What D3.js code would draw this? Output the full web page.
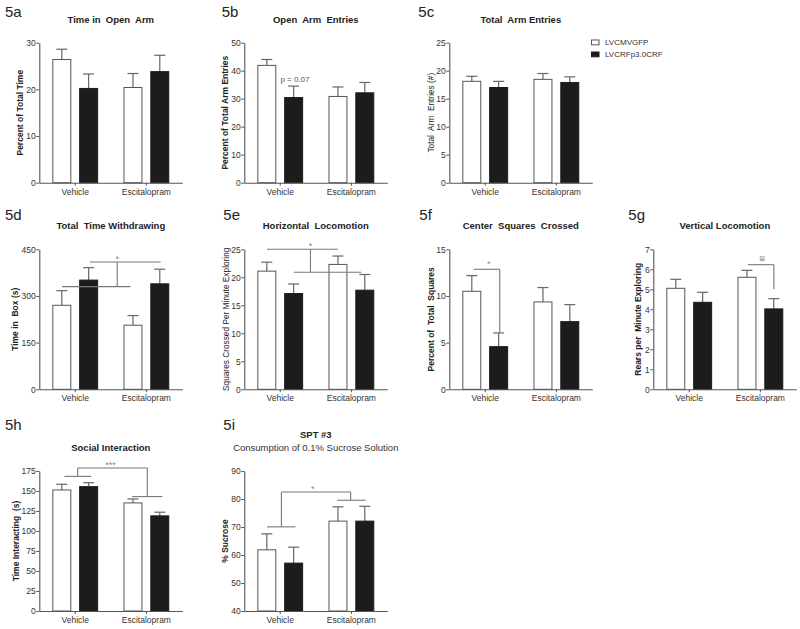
<!DOCTYPE html>
<html><head><meta charset="utf-8">
<script src="https://cdn.jsdelivr.net/npm/d3@7"></script>
<style>
body{margin:0;background:#fff;}
svg{font-family:"Liberation Sans",Arial,Helvetica,sans-serif;}
text{white-space:pre;}
</style></head><body>
<svg id="chart" width="800" height="629"></svg>
<script>
// ---------- data ----------
const groups = ["Vehicle", "Escitalopram"];
const seriesNames = ["LVCMVGFP", "LVCRFp3.0CRF"];
// order of values: [Vehicle-GFP, Vehicle-CRF, Escitalopram-GFP, Escitalopram-CRF]
const openArmTimeMean = [26.4, 20.2, 20.4, 23.8];
const openArmTimeSem  = [2.2, 3.1, 3.0, 3.5];
const openArmEntriesMean = [41.9, 30.4, 30.8, 32.1];
const openArmEntriesSem  = [2.1, 4.1, 3.4, 3.7];
const totalArmEntriesMean = [18.1, 17.0, 18.45, 17.9];
const totalArmEntriesSem  = [0.9, 1.1, 1.05, 1.0];
const withdrawingMean = [270, 351, 206, 339];
const withdrawingSem  = [47, 40, 31, 47];
const horizontalMean = [21.1, 17.1, 22.3, 17.7];
const horizontalSem  = [1.6, 1.7, 1.5, 2.8];
const centerSquaresMean = [10.5, 4.57, 9.36, 7.25];
const centerSquaresSem  = [1.68, 1.47, 1.54, 1.82];
const verticalMean = [5.05, 4.35, 5.6, 4.02];
const verticalSem  = [0.45, 0.5, 0.35, 0.51];
const socialMean = [151.3, 155.5, 135.1, 118.9];
const socialSem  = [7.1, 4.9, 5.0, 4.6];
const sucroseMean = [61.85, 57.1, 72.1, 72.1];
const sucroseSem  = [5.7, 5.7, 5.1, 5.3];

// tick labels
const ticks5a = [0, 10, 20, 30];
const ticks5b = [0, 10, 20, 30, 40, 50];
const ticks5c = [0, 5, 10, 15, 20, 25];
const ticks5d = [0, 150, 300, 450];
const ticks5e = [0, 5, 10, 15, 20, 25];
const ticks5f = [0, 5, 10, 15];
const ticks5g = [0, 1, 2, 3, 4, 5, 6, 7];
const ticks5h = [0, 25, 50, 75, 100, 125, 150, 175];
const ticks5i = [40, 50, 60, 70, 80, 90];

// significance brackets: [u1, v1, u2, v2] where u = group position (0 Vehicle, 1 Escitalopram), v = value
const sig5d = [[0.204, 409, 1.2, 409], [-0.185, 330, 0.777, 330], [0.59, 409, 0.59, 330]];
const sig5e = [[-0.185, 25, 0.81, 25], [0.19, 20.9, 1.14, 20.9], [0.425, 25, 0.425, 20.9]];
const sig5f = [[-0.162, 12.86, 0.204, 12.86], [0.204, 12.86, 0.204, 6.06]];
const sig5g = [[0.824, 6.23, 1.19, 6.23], [1.19, 6.23, 1.19, 5.0]];
const sig5h = [[0.035, 178.7, 1.013, 178.7], [-0.152, 168.3, 0.224, 168.3], [0.035, 178.7, 0.035, 168.3],
               [1.013, 178.7, 1.013, 143], [0.801, 143, 1.224, 143]];
const sig5i = [[0.017, 82.5, 0.99, 82.5], [0.017, 82.5, 0.017, 70.05], [-0.185, 70.05, 0.214, 70.05],
               [0.99, 82.5, 0.99, 79.55], [0.80, 79.55, 1.2, 79.55]];
// significance marks: [u, v, text]
const marks5b = [[0.207, 36.7, "p = 0.07"]];
const marks5d = [[0.59, 426, "*"]];
const marks5e = [[0.425, 26.1, "*"]];
const marks5f = [[0.05, 13.7, "*"]];
const marks5g = [[1.027, 6.5, "\u22A0"]];
const marks5h = [[0.496, 185.5, "***"]];
const marks5i = [[0.458, 84.6, "*"]];

// ---------- layout ----------
const colX = [39.3, 244.3, 449.3, 653.3];
const rowTop = [42.7, 249.3, 471];
const plotW = 143, plotH = 140;

const panels = [
  {id:"5a", col:0, row:0, title:"Time in  Open  Arm", ylab:"Percent of Total Time", bold:true, ylabDx:-19.5, labX:5,
   mean:openArmTimeMean, sem:openArmTimeSem, ticks:ticks5a, sig:[], marks:[]},
  {id:"5b", col:1, row:0, title:"Open  Arm  Entries", ylab:"Percent of Total Arm Entries", bold:true, ylabDx:-19.5, labX:221.7,
   mean:openArmEntriesMean, sem:openArmEntriesSem, ticks:ticks5b, sig:[], marks:marks5b},
  {id:"5c", col:2, row:0, title:"Total  Arm Entries", ylab:"Total  Arm  Entries (#)", bold:false, ylabDx:-18, labX:418.3,
   mean:totalArmEntriesMean, sem:totalArmEntriesSem, ticks:ticks5c, sig:[], marks:[]},
  {id:"5d", col:0, row:1, title:"Total  Time Withdrawing", ylab:"Time in  Box (s)", bold:true, ylabDx:-24.3, labX:5,
   mean:withdrawingMean, sem:withdrawingSem, ticks:ticks5d, sig:sig5d, marks:marks5d},
  {id:"5e", col:1, row:1, title:"Horizontal  Locomotion", ylab:"Squares Crossed Per Minute Exploring", bold:false, ylabDx:-18, labX:223.3,
   mean:horizontalMean, sem:horizontalSem, ticks:ticks5e, sig:sig5e, marks:marks5e},
  {id:"5f", col:2, row:1, title:"Center  Squares  Crossed", ylab:"Percent of  Total  Squares", bold:true, ylabDx:-18, labX:419.3,
   mean:centerSquaresMean, sem:centerSquaresSem, ticks:ticks5f, sig:sig5f, marks:marks5f},
  {id:"5g", col:3, row:1, title:"Vertical Locomotion", ylab:"Rears per  Minute Exploring", bold:true, ylabDx:-15, labX:628.3,
   mean:verticalMean, sem:verticalSem, ticks:ticks5g, sig:sig5g, marks:marks5g},
  {id:"5h", col:0, row:2, title:"Social Interaction", ylab:"Time Interacting  (s)", bold:true, ylabDx:-23.5, labX:5,
   mean:socialMean, sem:socialSem, ticks:ticks5h, sig:sig5h, marks:marks5h},
  {id:"5i", col:1, row:2, title:"SPT #3", subtitle:"Consumption of 0.1% Sucrose Solution", ylab:"% Sucrose", bold:true, ylabDx:-19.5, labX:223.3,
   mean:sucroseMean, sem:sucroseSem, ticks:ticks5i, sig:sig5i, marks:marks5i}
];
const labBase = [17.3, 220, 430];
const titleBase = [22.5, 228.5, 450.5];

const svg = d3.select("#chart");
const axisColor = "#555", textColor = "#333";

panels.forEach(p => {
  const g = svg.append("g").attr("transform", `translate(${colX[p.col]},${rowTop[p.row]})`);
  const x = d3.scaleBand().domain(groups).range([0, plotW]).paddingInner(0.37).paddingOuter(0.19);
  const xs = d3.scaleBand().domain([0, 1]).range([0, x.bandwidth()]).paddingInner(0.33);
  const u = d3.scaleLinear().domain([0, 1])
    .range([x(groups[0]) + x.bandwidth() / 2, x(groups[1]) + x.bandwidth() / 2]);
  const dom = d3.extent(p.ticks);
  const y = d3.scaleLinear().domain(dom).range([plotH, 0]);

  const data = p.mean.map((m, i) => ({g: groups[Math.floor(i / 2)], s: i % 2, m, e: p.sem[i]}));

  // error bars (behind bars)
  const eb = g.append("g").selectAll("g").data(data).join("g");
  eb.append("line")
    .attr("x1", d => x(d.g) + xs(d.s) + xs.bandwidth() / 2)
    .attr("x2", d => x(d.g) + xs(d.s) + xs.bandwidth() / 2)
    .attr("y1", d => y(d.m)).attr("y2", d => y(d.m + d.e))
    .attr("stroke", "#666").attr("stroke-width", 1.2);
  eb.append("line")
    .attr("x1", d => x(d.g) + xs(d.s) + xs.bandwidth() / 2 - 5.5)
    .attr("x2", d => x(d.g) + xs(d.s) + xs.bandwidth() / 2 + 5.5)
    .attr("y1", d => y(d.m + d.e)).attr("y2", d => y(d.m + d.e))
    .attr("stroke", "#666").attr("stroke-width", 1.2);

  // bars
  g.append("g").selectAll("rect").data(data).join("rect")
    .attr("x", d => x(d.g) + xs(d.s))
    .attr("y", d => y(d.m))
    .attr("width", xs.bandwidth())
    .attr("height", d => y(dom[0]) - y(d.m))
    .attr("fill", d => d.s === 0 ? "#fff" : "#1c1c1c")
    .attr("stroke", d => d.s === 0 ? "#555" : "#1c1c1c")
    .attr("stroke-width", 1);

  // axes
  const ya = g.append("g").call(d3.axisLeft(y).tickValues(p.ticks).tickFormat(d3.format("d"))
    .tickSize(3).tickSizeOuter(0).tickPadding(0.5));
  const xa = g.append("g").attr("transform", `translate(0,${plotH})`)
    .call(d3.axisBottom(x).tickSize(3).tickSizeOuter(0).tickPadding(3));
  [ya, xa].forEach(a => {
    a.select(".domain").attr("stroke", axisColor).attr("stroke-width", 1.1);
    a.selectAll(".tick line").attr("stroke", axisColor);
    a.selectAll("text").attr("fill", textColor).attr("font-size", 8.5)
      .attr("font-family", "'Liberation Sans', Arial, sans-serif");
  });

  // significance lines
  g.append("g").selectAll("line").data(p.sig).join("line")
    .attr("x1", d => u(d[0])).attr("y1", d => y(d[1]))
    .attr("x2", d => u(d[2])).attr("y2", d => y(d[3]))
    .attr("stroke", "#777").attr("stroke-width", 1.1);
  g.append("g").selectAll("text").data(p.marks).join("text")
    .attr("x", d => u(d[0])).attr("y", d => y(d[1]))
    .attr("text-anchor", "middle")
    .attr("dominant-baseline", "central")
    .attr("dy", d => d[2].startsWith("*") ? "0.3em" : "0")
    .attr("font-size", d => d[2].startsWith("*") ? 9 : (d[2].startsWith("p") ? 8 : 7))
    .attr("font-family", d => d[2].startsWith("\u22A0") ? "'DejaVu Sans'" : null)
    .attr("fill", d => d[2].startsWith("p") ? "#555" : "#888")
    .text(d => d[2]);

  // y title
  g.append("text")
    .attr("transform", `translate(${p.ylabDx},${plotH / 2}) rotate(-90)`)
    .attr("text-anchor", "middle").attr("dominant-baseline", "central")
    .attr("font-size", p.bold ? 8.5 : 8.3)
    .attr("font-weight", p.bold ? "bold" : "normal")
    .attr("fill", "#222")
    .text(p.ylab);

  // title
  const cx = colX[p.col] + plotW / 2;
  if (p.subtitle) {
    svg.append("text").attr("x", cx).attr("y", titleBase[p.row] - 12.5)
      .attr("text-anchor", "middle").attr("font-size", 9.5).attr("font-weight", "bold").attr("fill", "#222")
      .text(p.title);
    svg.append("text").attr("x", cx).attr("y", titleBase[p.row])
      .attr("text-anchor", "middle").attr("font-size", 9.5).attr("fill", "#333")
      .text(p.subtitle);
  } else {
    svg.append("text").attr("x", cx).attr("y", titleBase[p.row])
      .attr("text-anchor", "middle").attr("font-size", 9.5).attr("font-weight", "bold").attr("fill", "#222")
      .text(p.title);
  }
  // panel label
  svg.append("text").attr("x", p.labX).attr("y", labBase[p.row])
    .attr("font-size", 15).attr("fill", "#222").text(p.id);
});

// legend
const legend = svg.append("g").attr("transform", "translate(591,39.5)");
const li = legend.selectAll("g").data(seriesNames).join("g")
  .attr("transform", (d, i) => `translate(0,${i * 12})`);
li.append("rect").attr("x", 0.5).attr("y", 0.5).attr("width", 7.5).attr("height", 4.8)
  .attr("fill", (d, i) => i === 0 ? "#fff" : "#1c1c1c")
  .attr("stroke", (d, i) => i === 0 ? "#555" : "#1c1c1c");
li.append("text").attr("x", 14).attr("y", 3).attr("dominant-baseline", "central")
  .attr("font-size", 8).attr("fill", "#333").text(d => d);
</script>
</body></html>
